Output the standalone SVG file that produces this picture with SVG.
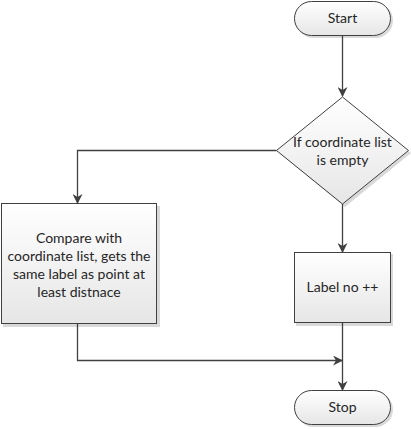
<svg xmlns="http://www.w3.org/2000/svg" width="411" height="429" viewBox="0 0 411 429">
<style>
.shape{stroke:#404040;stroke-width:1;fill:url(#g)}
.shadow{fill:#d9d9d9;stroke:none}
.t{font-family:Lato,"Liberation Sans",sans-serif;font-size:14px;fill:#262626;text-anchor:middle}
.c{fill:none;stroke:#404040;stroke-width:1.3}
</style>
<defs>
<linearGradient id="g" x1="0" y1="0" x2="0" y2="1">
<stop offset="0" stop-color="#ffffff"/>
<stop offset="1" stop-color="#e6e6e6"/>
</linearGradient>
<marker id="a" markerWidth="10" markerHeight="10" refX="9" refY="5" orient="auto" markerUnits="userSpaceOnUse">
<path d="M0,0 L10,5 L0,10 L3,5 Z" fill="#404040"/>
</marker>
</defs>
<g id="start">
<rect class="shadow" x="296" y="3" width="97" height="35" rx="17.5"/>
<rect class="shape" x="294.5" y="1.5" width="96" height="34" rx="17"/>
<text class="t" x="342.5" y="23">Start</text>
</g>
<g id="decision">
<polygon class="shadow" points="345,99 411,153 345,207 279,153"/>
<polygon class="shape" points="342.5,97 408.5,150.5 342.5,204 276.5,150.5"/>
<text class="t" x="342.5" y="147">If coordinate list</text>
<text class="t" x="342.5" y="165">is empty</text>
</g>
<g id="compare">
<rect class="shadow" x="3" y="206" width="157" height="121"/>
<rect class="shape" x="1.5" y="203.5" width="155" height="120"/>
<text class="t" x="79" y="243">Compare with</text>
<text class="t" x="79" y="261">coordinate list, gets the</text>
<text class="t" x="79" y="279">same label as point at</text>
<text class="t" x="79" y="297">least distnace</text>
</g>
<g id="label">
<rect class="shadow" x="296" y="254" width="97" height="72"/>
<rect class="shape" x="294.5" y="252.5" width="96" height="70"/>
<text class="t" x="342.5" y="292">Label no ++</text>
</g>
<g id="stop">
<rect class="shadow" x="296" y="392" width="97" height="35" rx="17.5"/>
<rect class="shape" x="294.5" y="390.5" width="96" height="34" rx="17"/>
<text class="t" x="342.5" y="412">Stop</text>
</g>
<g id="connectors">
<path class="c" d="M342.5,35.5 V96" marker-end="url(#a)"/>
<path class="c" d="M276.5,150.5 H77.5 V203" marker-end="url(#a)"/>
<path class="c" d="M342.5,204 V252" marker-end="url(#a)"/>
<path class="c" d="M77.5,323.5 V360.5 H342" marker-end="url(#a)"/>
<path class="c" d="M342.5,322.5 V390" marker-end="url(#a)"/>
</g>
</svg>
